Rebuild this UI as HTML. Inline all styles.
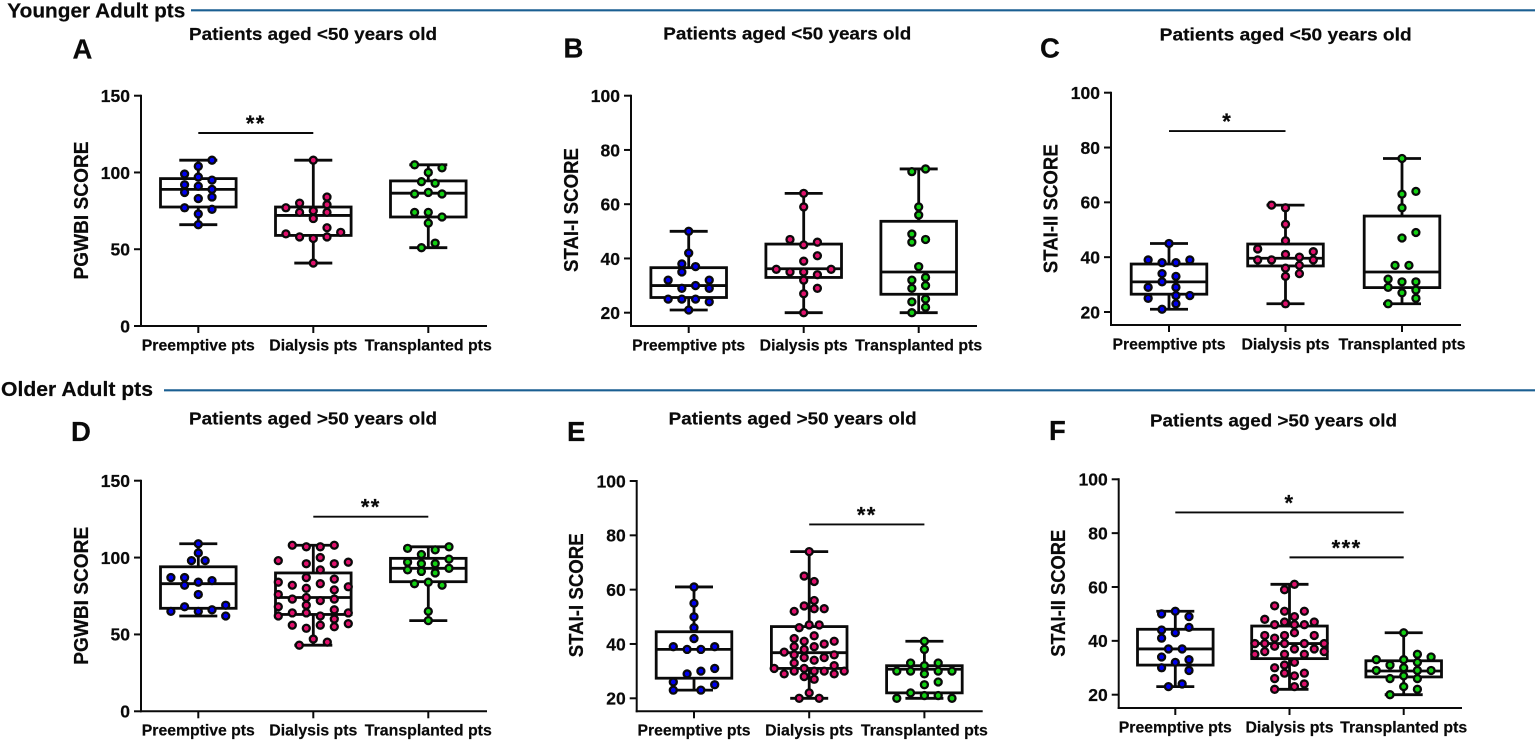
<!DOCTYPE html>
<html lang="en">
<head>
<meta charset="utf-8">
<title>Younger and older adult patient scores</title>
<style>
  html, body { margin: 0; padding: 0; background: #ffffff; }
  body { width: 1535px; height: 740px; overflow: hidden; }
  svg { display: block; }
  text { font-family: "Liberation Sans", Arial, sans-serif; font-weight: bold; fill: #0a0a0a; stroke: #0a0a0a; stroke-width: 0.2; }
</style>
</head>
<body>
<svg id="figure" xmlns="http://www.w3.org/2000/svg" width="1535" height="740" viewBox="0 0 1535 740">
  <rect x="0" y="0" width="1535" height="740" fill="#ffffff"/>

  <text x="7.3" y="17.5" font-size="20.5" textLength="178" lengthAdjust="spacingAndGlyphs">Younger Adult pts</text>
  <line x1="191" y1="10.3" x2="1535" y2="10.3" stroke="#1a5f92" stroke-width="2.2"/>
  <text x="1" y="396" font-size="20.5" textLength="152" lengthAdjust="spacingAndGlyphs">Older Adult pts</text>
  <line x1="164" y1="390.3" x2="1535" y2="390.3" stroke="#1a5f92" stroke-width="2.2"/>

  <text x="72.5" y="58.3" font-size="27.5">A</text>
  <text x="563.5" y="57.7" font-size="27.5">B</text>
  <text x="1040" y="57.7" font-size="27.5">C</text>
  <text x="71" y="441" font-size="27.5">D</text>
  <text x="567" y="441" font-size="27.5">E</text>
  <text x="1049" y="440" font-size="27.5">F</text>

  <text x="189" y="40" font-size="17.5" textLength="248" lengthAdjust="spacingAndGlyphs">Patients aged &lt;50 years old</text>
  <text x="663.3" y="39.3" font-size="17.5" textLength="248" lengthAdjust="spacingAndGlyphs">Patients aged &lt;50 years old</text>
  <text x="1159.7" y="40.3" font-size="17.5" textLength="252" lengthAdjust="spacingAndGlyphs">Patients aged &lt;50 years old</text>
  <text x="189" y="424.3" font-size="17.5" textLength="248" lengthAdjust="spacingAndGlyphs">Patients aged &gt;50 years old</text>
  <text x="668.7" y="424.3" font-size="17.5" textLength="248" lengthAdjust="spacingAndGlyphs">Patients aged &gt;50 years old</text>
  <text x="1150" y="426.7" font-size="17.5" textLength="247" lengthAdjust="spacingAndGlyphs">Patients aged &gt;50 years old</text>

  <text transform="translate(88,210.5) rotate(-90)" text-anchor="middle" font-size="20" textLength="138" lengthAdjust="spacingAndGlyphs">PGWBI SCORE</text>
  <text transform="translate(578,210) rotate(-90)" text-anchor="middle" font-size="20" textLength="124" lengthAdjust="spacingAndGlyphs">STAI-I SCORE</text>
  <text transform="translate(1057.7,208.7) rotate(-90)" text-anchor="middle" font-size="20" textLength="129" lengthAdjust="spacingAndGlyphs">STAI-II SCORE</text>
  <text transform="translate(88,595.8) rotate(-90)" text-anchor="middle" font-size="20" textLength="138" lengthAdjust="spacingAndGlyphs">PGWBI SCORE</text>
  <text transform="translate(583,595.3) rotate(-90)" text-anchor="middle" font-size="20" textLength="124" lengthAdjust="spacingAndGlyphs">STAI-I SCORE</text>
  <text transform="translate(1065,593.3) rotate(-90)" text-anchor="middle" font-size="20" textLength="127" lengthAdjust="spacingAndGlyphs">STAI-II SCORE</text>
</svg>

<script>
const categories = ['Preemptive pts', 'Dialysis pts', 'Transplanted pts'];
const pgwbiTicks = [0, 50, 100, 150];
const staiTicks = [20, 40, 60, 80, 100];

/* Panel A: PGWBI, aged <50 */
const panelAValues = [
  [108,104,99,97,95,92,91,89,87,84,83,77,76,73,66],
  [108,84,80,79,77,74,75,74,70,64,60,61,58,57,58,41],
  [105,103,100,94,93,86,87,86,74,74,71,67,54,51]
];
const panelAColumns = [
  [1,0,-1,0,1,-1,0,1,-1,1,0,-1,1,0,0],
  [0,1,-1,1,-2,-1,0,1,0,1,-2,2,-1,0,1,0],
  [-1,1,0,-0.5,0.5,-1,0,1,-1,0,1,0,0.5,-0.5]
];
const panelAMin = [66,41,51];
const panelAQ1 = [77.5,59,71];
const panelAMedian = [89,72,86.5];
const panelAQ3 = [96,77.5,94.5];
const panelAMax = [108,108,105];
const panelASigFrom = [0];
const panelASigTo = [1];
const panelASigLevel = [125.7];
const panelASigLabel = ['**'];

/* Panel B: STAI-I, aged <50 */
const panelBValues = [
  [50,42,38,37,35,32,32,30,29,29,25,25,25,24,21],
  [64,59,47,46,45,41,39,36,36,35,35,34,32,29,27,20],
  [73,72,59,56,49,46,47,37,33,32,30,29,25,24,22,20]
];
const panelBColumns = [
  [0,0,-0.5,0.5,-0.5,-1.5,1.5,0.5,-0.5,1.5,-1.5,-0.5,0.5,1.5,0],
  [0,0,-1,1,0,1,0,-2,2,-1,0,1,0,1,0,0],
  [0.5,-0.5,0,0,-0.5,-0.5,0.5,0,0.5,-0.5,0.5,-0.5,0.5,-0.5,0.5,-0.5]
];
const panelBMin = [21,20,20];
const panelBQ1 = [25.6,33,26.8];
const panelBMedian = [30,36.2,35];
const panelBQ3 = [36.6,45.3,53.7];
const panelBMax = [50,64,73];
const panelBSigFrom = [];
const panelBSigTo = [];
const panelBSigLevel = [];
const panelBSigLabel = [];

/* Panel C: STAI-II, aged <50 */
const panelCValues = [
  [45,39,38,38,39,34,33,31,29,29,26,26,25,23,21],
  [59,58,52,46,43,42,41,40,39,39,39,37,36,34,33,23],
  [76,64,63,58,49,47,37,37,32,31,31,29,28,27,25,23]
];
const panelCColumns = [
  [0,-1.5,-0.5,0.5,1.5,-0.5,0.5,-0.5,-1.5,0.5,1.5,0.5,-1.5,0.5,-0.5],
  [-1,0,0,0,-2,2,0,1,-2,-1,2,1,0,1,0,0],
  [0,1,0,0,1,0,-0.5,0.5,-1,0,1,-1,1,0,1,-1]
];
const panelCMin = [21,23,23];
const panelCQ1 = [26.5,36.8,28.9];
const panelCMedian = [31,39.6,34.6];
const panelCQ3 = [37.5,44.8,55];
const panelCMax = [45,59,76];
const panelCSigFrom = [0];
const panelCSigTo = [1];
const panelCSigLevel = [86];
const panelCSigLabel = ['*'];

/* Panel D: PGWBI, aged >50 */
const panelDValues = [
  [109,103,98,98,87,87,85,84,82,76,69,68,65,65,66,62],
  [108,107,107,108,100,98,96,96,97,92,87,86,84,83,82,81,80,79,76,74,73,72,73,68,69,66,64,64,64,62,62,60,56,56,55,57,54,47,45,43],
  [106,107,105,102,99,97,96,96,92,93,91,90,84,83,82,65,59]
];
const panelDColumns = [
  [0,0,-0.5,0.5,-2,-1,1,0,-1,0,2,-1,-2,0,1,2],
  [-1.5,-0.5,0.5,1.5,0.5,-2.5,-0.5,1.5,2.5,0.5,-0.5,1.5,-2.5,0.5,-1.5,2.5,-0.5,1.5,-2.5,-0.5,-1.5,0.5,1.5,-2.5,-0.5,1.5,-1.5,-0.5,2.5,-2.5,0.5,1.5,-1.5,0.5,1.5,2.5,-0.5,0,1,-1],
  [-1.5,1.5,0.5,-0.5,1.5,-1.5,-0.5,0.5,-1.5,1.5,-0.5,0.5,0,-1,1,0,0]
];
const panelDMin = [62,43,59];
const panelDQ1 = [67,63,84.3];
const panelDMedian = [83,74,93];
const panelDQ3 = [94,90,99.5];
const panelDMax = [109,108,107];
const panelDSigFrom = [1];
const panelDSigTo = [2];
const panelDSigLevel = [126.6];
const panelDSigLabel = ['**'];

/* Panel E: STAI-I, aged >50 */
const panelEValues = [
  [61,55,50,46,42,39,39,38,38,31,30,29,26,25,23,23],
  [74,65,63,56,54,53,53,52,47,47,46,43,42,41,41,40,39,39,38,37,36,36,35,35,34,33,32,31,31,30,30,30,30,29,29,28,27,22,20,20],
  [41,38,33,33,32,30,30,30,30,29,25,26,22,21,21,20,20]
];
const panelEColumns = [
  [0,0,0,0,0,-1.5,1.5,-0.5,0.5,1.5,0.5,-0.5,-1.5,1.5,-1.5,0.5],
  [0,-0.5,0.5,0.5,-0.5,0.5,1.5,-1.5,0,1,-1,0.5,-1.5,-0.5,2.5,1.5,-1.5,0.5,-0.5,-2.5,-1.5,2.5,-0.5,1.5,0.5,-1.5,2.5,-3.5,-0.5,-1.5,0.5,1.5,3.5,-2.5,2.5,-0.5,0.5,0,-1,1],
  [0,0,-1,1,0,-2,-1,1,2,0,0,1,-1,0,1,-2,2]
];
const panelEMin = [23,20,20];
const panelEQ1 = [27.4,31,22];
const panelEMedian = [38,36.8,30.7];
const panelEQ3 = [44.5,46.4,32];
const panelEMax = [61,74,41];
const panelESigFrom = [1];
const panelESigTo = [2];
const panelESigLevel = [84];
const panelESigLabel = ['**'];

/* Panel F: STAI-II, aged >50 */
const panelFValues = [
  [51,50,49,45,44,43,41,37,37,34,33,32,30,29,24,23],
  [61,59,53,51,51,49,48,47,47,46,46,46,43,42,42,42,41,39,39,39,39,39,38,37,37,36,36,35,35,35,32,31,30,28,28,27,26,24,23,22],
  [43,35,34,33,33,31,32,30,29,29,29,27,26,26,23,22,20]
];
const panelFColumns = [
  [0,-1,1,1,-1,0,-1,-0.5,0.5,-1,1,0,-1,1,0.5,-0.5],
  [0.5,-0.5,-1.5,-0.5,1.5,0.5,-2.5,-0.5,2.5,-1.5,0.5,1.5,0.5,-2.5,-0.5,2.5,-1.5,-3.5,-2.5,-0.5,1.5,3.5,-1.5,0.5,2.5,-2.5,3.5,-3.5,-0.5,1.5,0.5,-0.5,-1.5,-0.5,1.5,0.5,-1.5,1.5,0.5,-1.5],
  [0,1,2,-2,0,-1,1,0,-2,1,2,0,-1,1,0,1,-1]
];
const panelFMin = [23,22,20];
const panelFQ1 = [31,33.4,26.6];
const panelFMedian = [37,39,28.8];
const panelFQ3 = [44.3,45.5,32.6];
const panelFMax = [51,61,43];
const panelFSigFrom = [0,1];
const panelFSigTo = [2,2];
const panelFSigLevel = [87.7,71];
const panelFSigLabel = ['*','***'];

const groupFills = ['#0000f0', '#e0106c', '#12d012'];
const groupNames = ['preemptive', 'dialysis', 'transplanted'];
const categoryLabelFit = [113, 88, 127];
const INK = '#0a0a0a';
const SVG_NS = 'http://www.w3.org/2000/svg';
const figure = document.getElementById('figure');

const panels = [
  { id: 'a', ticks: pgwbiTicks, axisX: 141, endX: 487, bottom: 326, v0: 0, y0: 326, v1: 150, y1: 95.7, cat0: 198.3, catStep: 115, dotSteps: [13.7, 13.7, 13.7],
    values: panelAValues, columns: panelAColumns, min: panelAMin, q1: panelAQ1, median: panelAMedian, q3: panelAQ3, max: panelAMax,
    sigFrom: panelASigFrom, sigTo: panelASigTo, sigLevel: panelASigLevel, sigLabel: panelASigLabel },
  { id: 'b', ticks: staiTicks, axisX: 631, endX: 977, bottom: 326, v0: 20, y0: 312.7, v1: 100, y1: 95.7, cat0: 688.7, catStep: 115, dotSteps: [13.7, 13.7, 13.7],
    values: panelBValues, columns: panelBColumns, min: panelBMin, q1: panelBQ1, median: panelBMedian, q3: panelBQ3, max: panelBMax,
    sigFrom: panelBSigFrom, sigTo: panelBSigTo, sigLevel: panelBSigLevel, sigLabel: panelBSigLabel },
  { id: 'c', ticks: staiTicks, axisX: 1111, endX: 1461, bottom: 325, v0: 20, y0: 312, v1: 100, y1: 92.7, cat0: 1169, catStep: 116.5, dotSteps: [13.9, 13.9, 13.9],
    values: panelCValues, columns: panelCColumns, min: panelCMin, q1: panelCQ1, median: panelCMedian, q3: panelCQ3, max: panelCMax,
    sigFrom: panelCSigFrom, sigTo: panelCSigTo, sigLevel: panelCSigLevel, sigLabel: panelCSigLabel },
  { id: 'd', ticks: pgwbiTicks, axisX: 141, endX: 487, bottom: 711.3, v0: 0, y0: 711.3, v1: 150, y1: 480.7, cat0: 198.3, catStep: 115, dotSteps: [13.7, 14, 13.8],
    values: panelDValues, columns: panelDColumns, min: panelDMin, q1: panelDQ1, median: panelDMedian, q3: panelDQ3, max: panelDMax,
    sigFrom: panelDSigFrom, sigTo: panelDSigTo, sigLevel: panelDSigLevel, sigLabel: panelDSigLabel },
  { id: 'e', ticks: staiTicks, axisX: 636.7, endX: 982.7, bottom: 711.3, v0: 20, y0: 698.3, v1: 100, y1: 481, cat0: 694, catStep: 115.2, dotSteps: [13.8, 10, 13.8],
    values: panelEValues, columns: panelEColumns, min: panelEMin, q1: panelEQ1, median: panelEMedian, q3: panelEQ3, max: panelEMax,
    sigFrom: panelESigFrom, sigTo: panelESigTo, sigLevel: panelESigLevel, sigLabel: panelESigLabel },
  { id: 'f', ticks: staiTicks, axisX: 1118.7, endX: 1462, bottom: 708, v0: 20, y0: 694.7, v1: 100, y1: 479.3, cat0: 1175.3, catStep: 114.2, dotSteps: [13.7, 9.9, 13.7],
    values: panelFValues, columns: panelFColumns, min: panelFMin, q1: panelFQ1, median: panelFMedian, q3: panelFQ3, max: panelFMax,
    sigFrom: panelFSigFrom, sigTo: panelFSigTo, sigLevel: panelFSigLevel, sigLabel: panelFSigLabel }
];

function make(tag, attrs, parent) {
  const node = document.createElementNS(SVG_NS, tag);
  Object.keys(attrs).forEach(function (key) { node.setAttribute(key, attrs[key]); });
  parent.appendChild(node);
  return node;
}

function drawLine(parent, x1, y1, x2, y2, width) {
  return make('line', { x1: x1, y1: y1, x2: x2, y2: y2, stroke: INK, 'stroke-width': width, 'stroke-linecap': 'butt' }, parent);
}

panels.forEach(function (panel) {
  const yScale = function (value) {
    return panel.y0 + (value - panel.v0) * (panel.y1 - panel.y0) / (panel.v1 - panel.v0);
  };
  const xScale = function (index) {
    return panel.cat0 + index * panel.catStep;
  };

  const chart = make('g', {}, figure);
  
  

  const topY = yScale(panel.ticks[panel.ticks.length - 1]);
  const yAxis = drawLine(chart, panel.axisX, topY - 1, panel.axisX, panel.bottom + 1, 2);
  
  

  const xAxis = drawLine(chart, panel.axisX - 1, panel.bottom, panel.endX, panel.bottom, 2);
  
  

  panel.ticks.forEach(function (tick) {
    const tickY = yScale(tick);
    const tickMark = drawLine(chart, panel.axisX - 7, tickY, panel.axisX, tickY, 2);
    
    

    const tickLabel = make('text', { x: panel.axisX - 11, y: tickY + 6.3, 'text-anchor': 'end', 'font-size': 17.5 }, chart);
    tickLabel.textContent = String(tick);
    
    
  });

  categories.forEach(function (category, index) {
    const catX = xScale(index);
    const catTick = drawLine(chart, catX, panel.bottom, catX, panel.bottom + 7, 2);
    
    

    const catLabel = make('text', { x: catX, y: panel.bottom + 24.3, 'text-anchor': 'middle', 'font-size': 15.5, textLength: categoryLabelFit[index], lengthAdjust: 'spacingAndGlyphs' }, chart);
    catLabel.textContent = category;
    
    

    const group = make('g', {}, chart);
    
    

    const boxHalf = 37.8;
    const capHalf = 19;
    const lineWeight = 2.8;

    const whiskerUp = drawLine(group, catX, yScale(panel.max[index]), catX, yScale(panel.q3[index]), lineWeight);
    
    

    const whiskerDown = drawLine(group, catX, yScale(panel.q1[index]), catX, yScale(panel.min[index]), lineWeight);
    
    

    const capTop = drawLine(group, catX - capHalf, yScale(panel.max[index]), catX + capHalf, yScale(panel.max[index]), lineWeight);
    
    

    const capBottom = drawLine(group, catX - capHalf, yScale(panel.min[index]), catX + capHalf, yScale(panel.min[index]), lineWeight);
    
    

    const box = make('rect', {
      x: catX - boxHalf,
      y: yScale(panel.q3[index]),
      width: boxHalf * 2,
      height: yScale(panel.q1[index]) - yScale(panel.q3[index]),
      fill: 'none',
      stroke: INK,
      'stroke-width': lineWeight
    }, group);
    
    

    const medianLine = drawLine(group, catX - boxHalf, yScale(panel.median[index]), catX + boxHalf, yScale(panel.median[index]), lineWeight);
    
    

    panel.values[index].forEach(function (value, pointIndex) {
      const dot = make('circle', {
        cx: catX + panel.columns[index][pointIndex] * panel.dotSteps[index],
        cy: yScale(value),
        r: 3.5,
        fill: groupFills[index],
        stroke: INK,
        'stroke-width': 2.3
      }, group);
      
      
    });
  });

  panel.sigLevel.forEach(function (level, sigIndex) {
    const fromX = xScale(panel.sigFrom[sigIndex]);
    const toX = xScale(panel.sigTo[sigIndex]);
    const sigY = yScale(level);

    const sigBar = drawLine(chart, fromX, sigY, toX, sigY, 1.9);
    
    

    const sigText = make('text', { x: (fromX + toX) / 2, y: sigY - 2, 'text-anchor': 'middle', 'font-size': 22, 'letter-spacing': 1.4 }, chart);
    sigText.textContent = panel.sigLabel[sigIndex];
    
    
  });
});
</script>
</body>
</html>
